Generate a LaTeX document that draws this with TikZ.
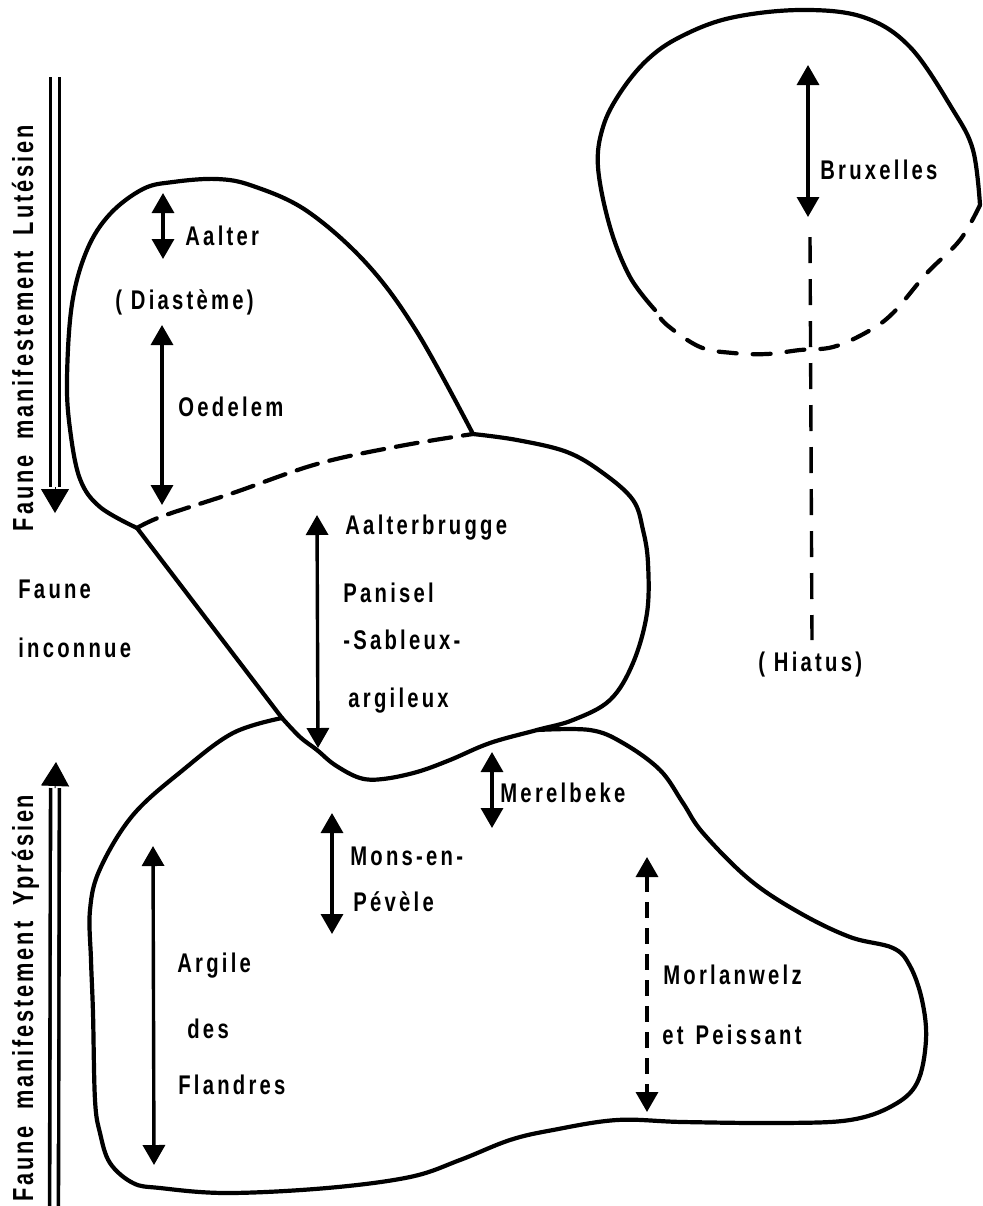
\documentclass[tikz,border=0pt]{standalone}
\usepackage{fontspec}
\newfontfamily\stratfont{Liberation Sans}[FakeStretch = 0.75, LetterSpace = 12]
\newfontfamily\faunafont{Liberation Sans}[FakeStretch = 0.75, LetterSpace = 10]
\usetikzlibrary{arrows.meta}
\tikzset {
    outline/.style = {line width = 2.1pt, line join = round, line cap = round},
    broken outline/.style = {outline, dash pattern = on 11pt off 6pt},
    span arrow/.style = {
        line width = 1.7pt,
        {Triangle[width = 11pt, length = 10pt]}-{Triangle[width = 11pt, length = 10pt]}
    },
    dashed span/.style = {span arrow, dash pattern = on 8pt off 5pt},
    gap line/.style = {line width = 1.7pt, dash pattern = on 13pt off 8pt},
    shaft/.style = {line width = 1.8pt, double distance = 2.6pt},
    big head/.style = {line width = 0.5pt, -{Triangle[width = 14pt, length = 12pt]}},
    stratum/.style = {
        font = \stratfont\bfseries\fontsize{13.5}{16}\selectfont,
        inner sep = 0pt, anchor = west, text height = 9.5pt, text depth = 0pt
    },
    fauna/.style = {
        font = \faunafont\bfseries\fontsize{14.5}{17}\selectfont,
        inner sep = 0pt, rotate = 90
    }
}

\begin{document}
\begin{tikzpicture}[x = 0.5pt, y = -0.5pt]
    \useasboundingbox (0, 0) rectangle (983, 1206);
    % junctions of the outlines
    \coordinate (j1) at (137, 528);
    \coordinate (j2) at (473, 434);
    \coordinate (j3) at (282, 718);
    \coordinate (j4) at (537, 730);

    % upper body
    \draw [outline] plot [smooth, tension = 0.6] coordinates {
        (j1) (100, 507) (80, 479) (70, 429) (67, 379) (72, 304) (87, 250)
        (110, 214) (143, 189) (173, 182) (217, 179) (253, 186) (307, 211)
        (367, 264) (417, 332) (j2)};
    \draw [broken outline] plot [smooth, tension = 0.6] coordinates {
        (j1) (163, 516) (233, 493) (317, 464) (400, 446) (j2)};

    % middle body
    \draw [outline] (j1) -- (j3);
    \draw [outline] plot [smooth, tension = 0.6] coordinates {
        (j3) (300, 737) (317, 750) (335, 765) (360, 778) (383, 779) (417, 772)
        (450, 760) (490, 743) (j4) (573, 720) (610, 700) (633, 663) (647, 613)
        (648, 563) (643, 530) (633, 500) (603, 473) (567, 452) (517, 440) (j2)};

    % lower body
    \draw [outline] plot [smooth, tension = 0.6] coordinates {
        (j3) (233, 733) (183, 770) (133, 815) (100, 869) (90, 910) (91, 960)
        (93, 1013) (95, 1100) (100, 1133) (110, 1163) (133, 1183) (160, 1188)
        (227, 1193) (327, 1188) (410, 1177) (460, 1160) (510, 1140) (553, 1130)
        (617, 1120) (683, 1122) (783, 1123) (850, 1120) (892, 1106) (917, 1083)
        (926, 1040) (922, 1000) (910, 966) (893, 948) (850, 937) (800, 913)
        (750, 880) (703, 833) (683, 803) (660, 770) (623, 743) (590, 730) (j4)};

    % Bruxelles body
    \draw [outline] plot [smooth, tension = 0.6] coordinates {
        (655, 310) (630, 277) (610, 227) (598, 167) (603, 127) (620, 93)
        (647, 60) (680, 37) (730, 18) (800, 10) (863, 17) (910, 47)
        (953, 110) (973, 150) (980, 205)};
    \draw [outline, dash pattern = on 9pt off 8pt] plot [smooth, tension = 0.6] coordinates {
        (980, 205) (960, 240) (927, 273) (893, 313) (867, 332) (833, 347)
        (800, 350) (767, 354) (733, 353) (700, 347) (667, 325) (655, 310)};

    % fauna arrows
    \coordinate (lut top) at (55, 77);
    \coordinate (lut neck) at (55, 487);
    \coordinate (lut tip) at (55, 513);
    \draw [shaft] (lut top) -- (lut neck);
    \draw [big head] (lut neck) -- (lut tip);
    \coordinate (ypr bottom) at (54, 1206);
    \coordinate (ypr neck) at (55, 788);
    \coordinate (ypr tip) at (56, 762);
    \draw [shaft] (ypr bottom) -- (ypr neck);
    \draw [big head] (ypr neck) -- (ypr tip);

    % stratigraphic ranges
    \coordinate (aalter top) at (163, 193);
    \coordinate (aalter bot) at (163, 259);
    \coordinate (oedelem top) at (162, 325);
    \coordinate (oedelem bot) at (162, 505);
    \coordinate (brux top) at (808, 65);
    \coordinate (brux bot) at (808, 217);
    \coordinate (hiatus top) at (810, 237);
    \coordinate (hiatus bot) at (812, 640);
    \coordinate (brugge top) at (317, 515);
    \coordinate (brugge bot) at (318, 748);
    \coordinate (merel top) at (492, 752);
    \coordinate (merel bot) at (492, 828);
    \coordinate (mons top) at (332, 813);
    \coordinate (mons bot) at (332, 934);
    \coordinate (argile top) at (153, 846);
    \coordinate (argile bot) at (154, 1165);
    \coordinate (morlan top) at (647, 857);
    \coordinate (morlan bot) at (647, 1112);
    \draw [span arrow] (aalter top) -- (aalter bot);
    \draw [span arrow] (oedelem top) -- (oedelem bot);
    \draw [span arrow] (brux top) -- (brux bot);
    \draw [gap line] (hiatus top) -- (hiatus bot);
    \draw [span arrow] (brugge top) -- (brugge bot);
    \draw [span arrow] (merel top) -- (merel bot);
    \draw [span arrow] (mons top) -- (mons bot);
    \draw [span arrow] (argile top) -- (argile bot);
    \draw [dashed span] (morlan top) -- (morlan bot);

    % names
    \node (aalter) [stratum] at (185, 236) {Aalter};
    \node (diasteme) [stratum] at (115, 300) {( Diastème)};
    \node (oedelem) [stratum] at (178, 407) {Oedelem};
    \node (bruxelles) [stratum] at (820, 170) {Bruxelles};
    \node (hiatus) [stratum] at (758, 662) {( Hiatus)};
    \node (aalterbrugge) [stratum] at (345, 525) {Aalterbrugge};
    \node (panisel) [stratum] at (343, 593) {Panisel};
    \node (sableux) [stratum] at (343, 640) {-Sableux-};
    \node (argileux) [stratum] at (348, 698) {argileux};
    \node (faune) [stratum] at (18, 589) {Faune};
    \node (inconnue) [stratum] at (18, 648) {inconnue};
    \node (merelbeke) [stratum] at (500, 793) {Merelbeke};
    \node (mons) [stratum] at (350, 856) {Mons-en-};
    \node (pevele) [stratum] at (353, 902) {Pévèle};
    \node (argile) [stratum] at (177, 963) {Argile};
    \node (des) [stratum] at (187, 1029) {des};
    \node (flandres) [stratum] at (178, 1085) {Flandres};
    \node (morlanwelz) [stratum] at (663, 975) {Morlanwelz};
    \node (peissant) [stratum] at (662, 1035) {et\hspace{6pt}Peissant};
    \node (lutetien) [fauna, anchor = base east] at (33, 125)
        {Faune\hspace{8pt}manifestement\hspace{8pt}Lutésien};
    \node (ypresien) [fauna, anchor = base west] at (33, 1202)
        {Faune\hspace{8pt}manifestement\hspace{8pt}Yprésien};
\end{tikzpicture}
\end{document}
